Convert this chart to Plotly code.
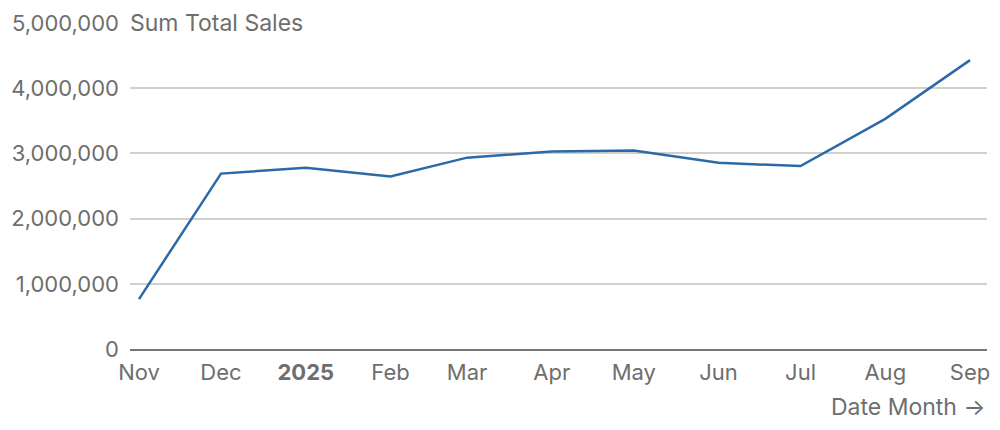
import plotly.graph_objects as go

# monthly totals
months = ["2024-11-01", "2024-12-01", "2025-01-01", "2025-02-01", "2025-03-01",
          "2025-04-01", "2025-05-01", "2025-06-01", "2025-07-01", "2025-08-01",
          "2025-09-01"]
total_sales = [765000, 2690000, 2780000, 2645000, 2935000,
               3030000, 3045000, 2855000, 2805000, 3530000, 4430000]

tick_labels = ["Nov", "Dec", "<b>2025</b>", "Feb", "Mar", "Apr", "May",
               "Jun", "Jul", "Aug", "Sep"]
y_ticks = [0, 1000000, 2000000, 3000000, 4000000, 5000000]

_TEXT = "#6e6e6e"
_LINE = "#2b6aa6"
_FONT = "Inter"
_SIZE = 22

fig = go.Figure()
fig.add_trace(go.Scatter(
    x=months, y=total_sales,
    mode="lines",
    line=dict(color=_LINE, width=2.5),
    hoverinfo="skip",
))

fig.update_layout(
    width=1000, height=430,
    margin=dict(l=130, r=10, t=21, b=81),
    paper_bgcolor="white", plot_bgcolor="white",
    showlegend=False,
    font=dict(family=_FONT, size=_SIZE, color=_TEXT),
    xaxis=dict(
        type="date",
        range=["2024-10-28 17:00", "2025-09-07 05:00"],
        tickvals=months, ticktext=tick_labels,
        showgrid=False, zeroline=False,
        showline=True, linecolor="#777777", linewidth=2,
        ticks="", ticklabelstandoff=3,
        tickfont=dict(family=_FONT, size=_SIZE, color=_TEXT),
    ),
    yaxis=dict(
        range=[0, 5015000],
        tickvals=y_ticks, tickformat=",d",
        showgrid=True, gridcolor="#d0d0d0", gridwidth=1.5,
        zeroline=False, showline=False,
        ticks="", ticklabelstandoff=10,
        tickfont=dict(family=_FONT, size=_SIZE, color=_TEXT),
    ),
)

# axis labels in the Observable Plot style
fig.add_annotation(
    xref="paper", yref="y", x=0, y=5000000,
    text="Sum Total Sales", showarrow=False,
    xanchor="left", yanchor="middle", bgcolor="white", xshift=-3,
    borderpad=2,
    font=dict(family=_FONT, size=23, color=_TEXT),
)
fig.add_annotation(
    xref="paper", yref="paper", x=1, y=0, yshift=-58,
    text="Date Month →", showarrow=False,
    xanchor="right", yanchor="middle", xshift=0,
    font=dict(family=_FONT, size=23, color=_TEXT),
)

fig.write_html("out.html", config={"displayModeBar": False},
               post_script="document.body.style.margin='0';")
